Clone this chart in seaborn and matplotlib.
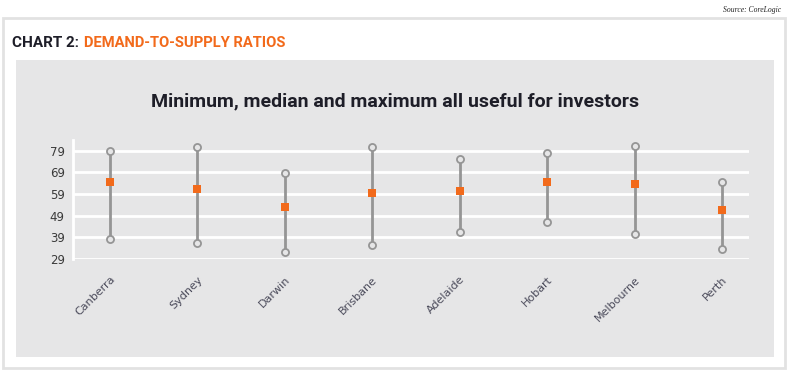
import matplotlib
matplotlib.use("Agg")
import matplotlib.pyplot as plt
from matplotlib import font_manager
import seaborn as sns
import pandas as pd
import numpy as np

cities = ["Canberra", "Sydney", "Darwin", "Brisbane", "Adelaide", "Hobart", "Melbourne", "Perth"]
min_vals = [38.1, 36.4, 32.1, 35.6, 41.3, 46.2, 40.5, 33.5]
median_vals = [64.4, 61.5, 53.0, 59.3, 60.3, 64.4, 63.5, 51.8]
max_vals = [79.0, 80.7, 68.6, 80.7, 75.3, 78.1, 81.0, 64.7]
y_ticks = [29, 39, 49, 59, 69, 79]

sns.set_theme(style="white")
names = {f.name for f in font_manager.fontManager.ttflist}
narrow = "Liberation Sans Narrow" if "Liberation Sans Narrow" in names else "Roboto"
plt.rcParams["font.family"] = ["DejaVu Sans"]

BG = "#e6e6e7"
ORANGE = "#f26a1b"
GREY = "#959595"

df_ends = pd.DataFrame({
    "city": cities * 2,
    "value": min_vals + max_vals,
})
df_med = pd.DataFrame({"city": cities, "value": median_vals})

fig = plt.figure(figsize=(7.91, 3.73), dpi=100)
fig.patch.set_facecolor("white")

# outer frame
fig.add_artist(plt.Rectangle((0.0038, 0.0134), 0.9886, 0.938, transform=fig.transFigure,
                             facecolor="white", edgecolor="#e2e2e2", lw=2.0, zorder=0))
# grey panel
fig.add_artist(plt.Rectangle((0.0202, 0.0429), 0.958, 0.796, transform=fig.transFigure,
                             facecolor=BG, edgecolor="none", zorder=0))

ax = fig.add_axes([0.0923, 0.3056, 0.8547, 0.3191])
ax.set_facecolor(BG)
ax.patch.set_alpha(0)

x = np.arange(len(cities))
ax.vlines(x, min_vals, max_vals, color=GREY, lw=2.0, zorder=2)
sns.scatterplot(data=df_ends, x="city", y="value", ax=ax, marker="o", s=26,
                facecolor=BG, edgecolor=GREY, linewidth=1.3, zorder=3, legend=False)
sns.scatterplot(data=df_med, x="city", y="value", ax=ax, marker="s", s=34,
                color=ORANGE, edgecolor=ORANGE, linewidth=0, zorder=4, legend=False)

ax.set_xlim(-0.42, 7.31)
ax.set_ylim(29, 84)
ax.set_yticks(y_ticks)
ax.set_yticklabels([str(v) for v in y_ticks], fontsize=8.5, color="#3a3a3a")
for v in y_ticks:
    ax.axhline(v, color="white", lw=2.0, zorder=1)
ax.set_xticks(x)
ax.set_xticklabels(cities, rotation=45, ha="right", rotation_mode="anchor",
                   fontsize=8, color="#4a4a5a")
ax.tick_params(axis="both", length=0)
ax.tick_params(axis="y", pad=6)
ax.tick_params(axis="x", pad=11)
for s in ["top", "right", "bottom"]:
    ax.spines[s].set_visible(False)
ax.spines["left"].set_color("white")
ax.spines["left"].set_linewidth(2.0)
ax.set_xlabel("")
ax.set_ylabel("")

fig.text(0.5, 0.727, "Minimum, median and maximum all useful for investors",
         ha="center", va="center", fontsize=14, fontweight="bold",
         family=[narrow, "DejaVu Sans"], color="#1e1e28")
fig.text(0.015, 0.885, "CHART 2:", ha="left", va="center", fontsize=11,
         fontweight="bold", family=[narrow, "DejaVu Sans"], color="#1e1e28")
fig.text(0.106, 0.885, "DEMAND-TO-SUPPLY RATIOS", ha="left", va="center", fontsize=10.6,
         fontweight="bold", family=[narrow, "DejaVu Sans"], color=ORANGE)
fig.text(0.988, 0.972, "Source: CoreLogic", ha="right", va="center", fontsize=5.5,
         style="italic", family=["Liberation Serif", "DejaVu Serif"], color="#222222")

fig.savefig("out.png", dpi=100)
